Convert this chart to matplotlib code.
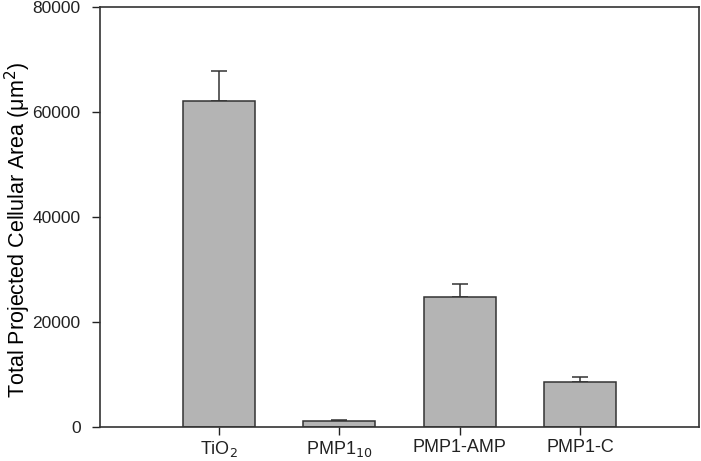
import numpy as np
import matplotlib.pyplot as plt

plt.rcParams['font.family'] = ['Liberation Sans', 'DejaVu Sans']

labels = ['TiO$_2$', 'PMP1$_{10}$', 'PMP1-AMP', 'PMP1-C']
area = [62100, 1150, 24800, 8550]
err = [5600, 200, 2350, 1000]

fig = plt.figure(figsize=(7.01, 4.61), dpi=100)
ax = fig.add_axes([0.1427, 0.0738, 0.8545, 0.9112])

pos = np.arange(1, len(labels) + 1)
ax.bar(pos, area, width=0.6, color='#b4b4b4', edgecolor='#333333', linewidth=1.1, zorder=2)
ax.errorbar(pos, area, yerr=[np.zeros(len(err)), err], fmt='none', ecolor='#333333',
            elinewidth=1.1, capsize=6, capthick=1.1, zorder=1)

ax.set_xlim(0.01, 4.99)
ax.set_ylim(0, 80000)
ax.set_yticks([0, 20000, 40000, 60000, 80000])
ax.set_xticks(pos)
ax.set_xticklabels(labels)
ax.tick_params(direction='out', length=6, width=1, colors='#222222')
ax.tick_params(axis='y', labelsize=12.5, pad=8)
ax.tick_params(axis='x', labelsize=13, pad=3)
ax.set_ylabel('Total Projected Cellular Area (\u03bcm$^2$)', fontsize=15.5)
ax.yaxis.set_label_coords(-0.112, 0.47)
for s in ax.spines.values():
    s.set_linewidth(1.2)
    s.set_color('#333333')

fig.savefig('out.png', dpi=100)
